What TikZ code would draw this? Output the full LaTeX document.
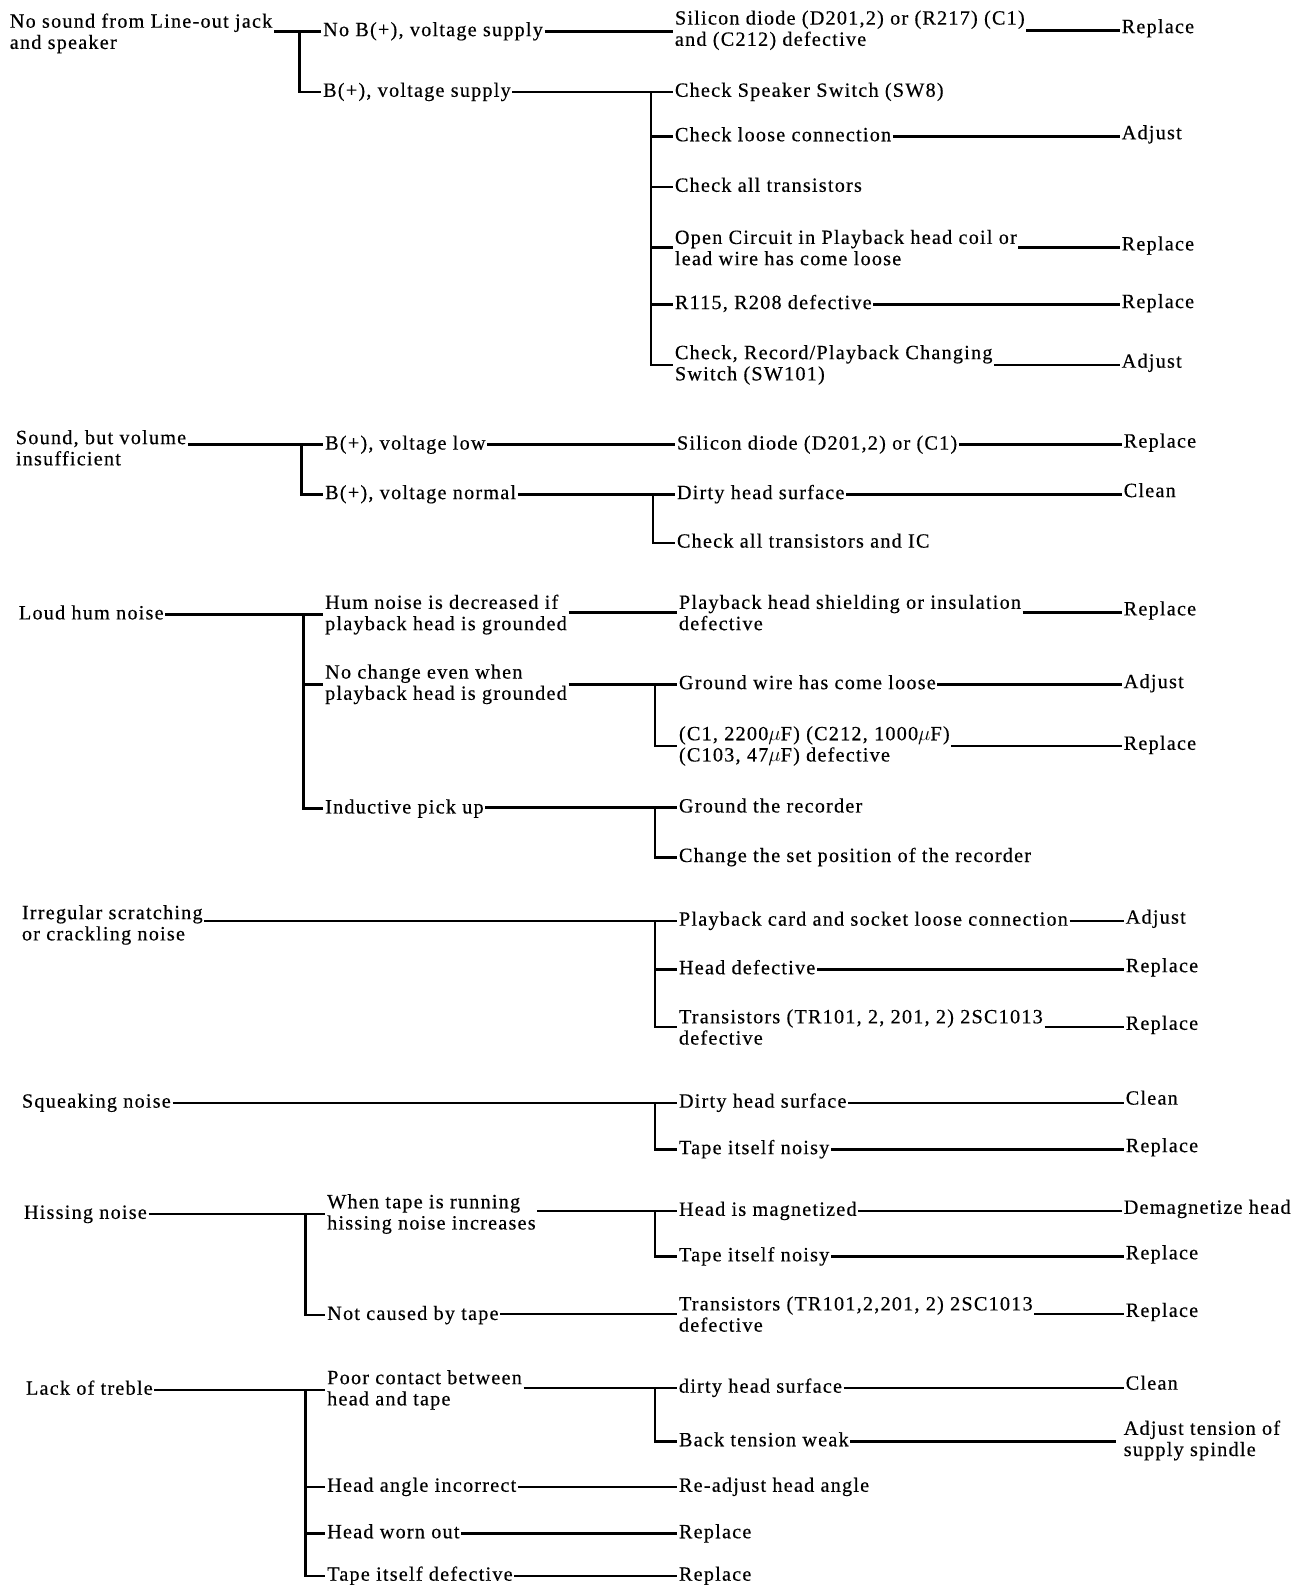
\documentclass[tikz,border=0pt]{standalone}
\usepackage{fontspec}
\newfontfamily\manualfont{Liberation Serif}[LetterSpace=6.0, FakeBold=0.4]
\tikzstyle{item} = [anchor=west, inner sep=1.5pt, text height=14pt, text depth=4.5pt]
\tikzstyle{twoline} = [anchor=west, inner sep=1.5pt, align=left]
\tikzstyle{link} = [line width=2.6pt]

\begin{document}
\begin{tikzpicture}[x=1pt, y=-1pt, font=\manualfont\fontsize{20}{21}\selectfont]
        \useasboundingbox (0,0) rectangle (1291,1568);

        % No sound
        \node[twoline] (noSound) at (8,33) {No sound from Line-out jack\\and speaker};
        \node[item] (noSupply) at (318,31) {No B(+), voltage supply};
        \node[item] (withSupply) at (318,91) {B(+), voltage supply};
        \node[twoline] (diodeA) at (666,30) {Silicon diode (D201,2) or (R217) (C1)\\and (C212) defective};
        \node[item] (replaceA) at (1108,28) {Replace};
        \node[item] (speakerSw) at (666,91) {Check Speaker Switch (SW8)};
        \node[item] (looseConn) at (666,135) {Check loose connection};
        \node[item] (adjustA) at (1108,133) {Adjust};
        \node[item] (allTrans) at (666,185) {Check all transistors};
        \node[twoline] (openCirc) at (666,245) {Open Circuit in Playback head coil or\\lead wire has come loose};
        \node[item] (replaceB) at (1108,243) {Replace};
        \node[item] (resist) at (666,301) {R115, R208 defective};
        \node[item] (replaceC) at (1108,300) {Replace};
        \node[twoline] (recSwitch) at (666,361) {Check, Record/Playback Changing\\Switch (SW101)};
        \node[item] (adjustB) at (1108,359) {Adjust};
        \coordinate (j1) at (296,0);
        \coordinate (j2) at (644,0);

        \draw[link] (noSound.east |- noSupply.west) -- (noSupply.west);
        \draw[link] (j1 |- noSupply.west) |- (withSupply.west);
        \draw[link] (noSupply.east) -- (noSupply.east -| diodeA.west);
        \draw[link] (diodeA.east) -- (diodeA.east -| replaceA.west);
        \draw[link] (withSupply.east) -- (speakerSw.west);
        \draw[link] (j2 |- speakerSw.west) |- (recSwitch.west);
        \foreach \n in {looseConn, allTrans, openCirc, resist}
            \draw[link] (j2 |- \n.west) -- (\n.west);
        \draw[link] (looseConn.east) -- (looseConn.east -| adjustA.west);
        \draw[link] (openCirc.east) -- (openCirc.east -| replaceB.west);
        \draw[link] (resist.east) -- (resist.east -| replaceC.west);
        \draw[link] (recSwitch.east) -- (recSwitch.east -| adjustB.west);

        % Sound, but volume insufficient
        \node[twoline] (lowVolume) at (14,443) {Sound, but volume\\insufficient};
        \node[item] (lowVolt) at (320,440) {B(+), voltage low};
        \node[item] (normVolt) at (320,489) {B(+), voltage normal};
        \node[item] (diodeB) at (668,440) {Silicon diode (D201,2) or (C1)};
        \node[item] (replaceD) at (1110,438) {Replace};
        \node[item] (dirtyA) at (668,489) {Dirty head surface};
        \node[item] (cleanA) at (1110,487) {Clean};
        \node[item] (transIC) at (668,537) {Check all transistors and IC};
        \coordinate (j3) at (298,0);
        \coordinate (j4) at (646,0);

        \draw[link] (lowVolume.east |- lowVolt.west) -- (lowVolt.west);
        \draw[link] (j3 |- lowVolt.west) |- (normVolt.west);
        \draw[link] (lowVolt.east) -- (diodeB.west);
        \draw[link] (diodeB.east) -- (diodeB.east -| replaceD.west);
        \draw[link] (normVolt.east) -- (dirtyA.west);
        \draw[link] (j4 |- dirtyA.west) |- (transIC.west);
        \draw[link] (dirtyA.east) -- (dirtyA.east -| cleanA.west);

        % Loud hum noise
        \node[item] (loudHum) at (17,608) {Loud hum noise};
        \node[twoline] (humLess) at (320,608) {Hum noise is decreased if\\playback head is grounded};
        \node[twoline] (noChange) at (320,677) {No change even when\\playback head is grounded};
        \node[item] (induct) at (320,800) {Inductive pick up};
        \node[twoline] (shielding) at (670,606) {Playback head shielding or insulation\\defective};
        \node[item] (replaceE) at (1110,604) {Replace};
        \node[item] (groundWire) at (670,677) {Ground wire has come loose};
        \node[item] (adjustC) at (1110,676) {Adjust};
        \node[twoline] (capacitors) at (670,738) {(C1, 2200$\mu$F) (C212, 1000$\mu$F)\\(C103, 47$\mu$F) defective};
        \node[item] (replaceF) at (1110,737) {Replace};
        \node[item] (groundRec) at (670,799) {Ground the recorder};
        \node[item] (setPos) at (670,848) {Change the set position of the recorder};
        \coordinate (j5) at (300,0);
        \coordinate (j6) at (648,0);

        \draw[link] (loudHum.east) -- (humLess.west);
        \draw[link] (j5 |- humLess.west) |- (induct.west);
        \draw[link] (j5 |- noChange.west) -- (noChange.west);
        \draw[link] (humLess.east |- shielding.west) -- (shielding.west);
        \draw[link] (shielding.east) -- (shielding.east -| replaceE.west);
        \draw[link] (noChange.east) -- (groundWire.west);
        \draw[link] (j6 |- groundWire.west) |- (capacitors.west);
        \draw[link] (groundWire.east) -- (groundWire.east -| adjustC.west);
        \draw[link] (capacitors.east) -- (capacitors.east -| replaceF.west);
        \draw[link] (induct.east |- groundRec.west) -- (groundRec.west);
        \draw[link] (j6 |- groundRec.west) |- (setPos.west);

        % Irregular scratching
        \node[twoline] (scratch) at (20,915) {Irregular scratching\\or crackling noise};
        \node[item] (cardSocket) at (670,911) {Playback card and socket loose connection};
        \node[item] (adjustD) at (1112,909) {Adjust};
        \node[item] (headDef) at (670,959) {Head defective};
        \node[item] (replaceG) at (1112,957) {Replace};
        \node[twoline] (transB) at (670,1016) {Transistors (TR101, 2, 201, 2) 2SC1013\\defective};
        \node[item] (replaceH) at (1112,1014) {Replace};
        \coordinate (j7) at (648,0);

        \draw[link] (scratch.east |- cardSocket.west) -- (cardSocket.west);
        \draw[link] (j7 |- cardSocket.west) |- (transB.west);
        \draw[link] (j7 |- headDef.west) -- (headDef.west);
        \draw[link] (cardSocket.east) -- (cardSocket.east -| adjustD.west);
        \draw[link] (headDef.east) -- (headDef.east -| replaceG.west);
        \draw[link] (transB.east) -- (transB.east -| replaceH.west);

        % Squeaking noise
        \node[item] (squeak) at (20,1091) {Squeaking noise};
        \node[item] (dirtyB) at (670,1091) {Dirty head surface};
        \node[item] (cleanB) at (1112,1088) {Clean};
        \node[item] (tapeNoisyA) at (670,1137) {Tape itself noisy};
        \node[item] (replaceI) at (1112,1135) {Replace};
        \coordinate (j8) at (648,0);

        \draw[link] (squeak.east) -- (dirtyB.west);
        \draw[link] (j8 |- dirtyB.west) |- (tapeNoisyA.west);
        \draw[link] (dirtyB.east) -- (dirtyB.east -| cleanB.west);
        \draw[link] (tapeNoisyA.east) -- (tapeNoisyA.east -| replaceI.west);

        % Hissing noise
        \node[item] (hissing) at (22,1201) {Hissing noise};
        \node[twoline] (tapeRun) at (322,1201) {When tape is running\\hissing noise increases};
        \node[item] (notTape) at (322,1301) {Not caused by tape};
        \node[item] (magnet) at (670,1198) {Head is magnetized};
        \node[item] (demag) at (1110,1196) {Demagnetize head};
        \node[item] (tapeNoisyB) at (670,1243) {Tape itself noisy};
        \node[item] (replaceJ) at (1112,1241) {Replace};
        \node[twoline] (transC) at (670,1300) {Transistors (TR101,2,201, 2) 2SC1013\\defective};
        \node[item] (replaceK) at (1112,1298) {Replace};
        \coordinate (j9) at (302,0);
        \coordinate (j10) at (648,0);

        \draw[link] (hissing.east) -- (tapeRun.west);
        \draw[link] (j9 |- tapeRun.west) |- (notTape.west);
        \draw[link] (tapeRun.east |- magnet.west) -- (magnet.west);
        \draw[link] (j10 |- magnet.west) |- (tapeNoisyB.west);
        \draw[link] (magnet.east) -- (magnet.east -| demag.west);
        \draw[link] (tapeNoisyB.east) -- (tapeNoisyB.east -| replaceJ.west);
        \draw[link] (notTape.east |- transC.west) -- (transC.west);
        \draw[link] (transC.east) -- (transC.east -| replaceK.west);

        % Lack of treble
        \node[item] (treble) at (24,1375) {Lack of treble};
        \node[twoline] (poorContact) at (322,1375) {Poor contact between\\head and tape};
        \node[item] (headAngle) at (322,1471) {Head angle incorrect};
        \node[item] (wornOut) at (322,1517) {Head worn out};
        \node[item] (tapeDef) at (322,1559) {Tape itself defective};
        \node[item] (dirtyC) at (670,1373) {dirty head surface};
        \node[item] (cleanC) at (1112,1370) {Clean};
        \node[item] (backTension) at (670,1426) {Back tension weak};
        \node[twoline] (adjustTension) at (1110,1425) {Adjust tension of\\supply spindle};
        \node[item] (readjust) at (670,1471) {Re-adjust head angle};
        \node[item] (replaceL) at (670,1517) {Replace};
        \node[item] (replaceM) at (670,1559) {Replace};
        \coordinate (j11) at (302,0);
        \coordinate (j12) at (648,0);

        \draw[link] (treble.east) -- (poorContact.west);
        \draw[link] (j11 |- poorContact.west) |- (tapeDef.west);
        \foreach \n in {headAngle, wornOut}
            \draw[link] (j11 |- \n.west) -- (\n.west);
        \draw[link] (poorContact.east |- dirtyC.west) -- (dirtyC.west);
        \draw[link] (j12 |- dirtyC.west) |- (backTension.west);
        \draw[link] (dirtyC.east) -- (dirtyC.east -| cleanC.west);
        \draw[link] (backTension.east) -- ([xshift=-6pt]backTension.east -| adjustTension.west);
        \draw[link] (headAngle.east) -- (readjust.west);
        \draw[link] (wornOut.east) -- (replaceL.west);
        \draw[link] (tapeDef.east) -- (replaceM.west);
    \end{tikzpicture}
\end{document}
